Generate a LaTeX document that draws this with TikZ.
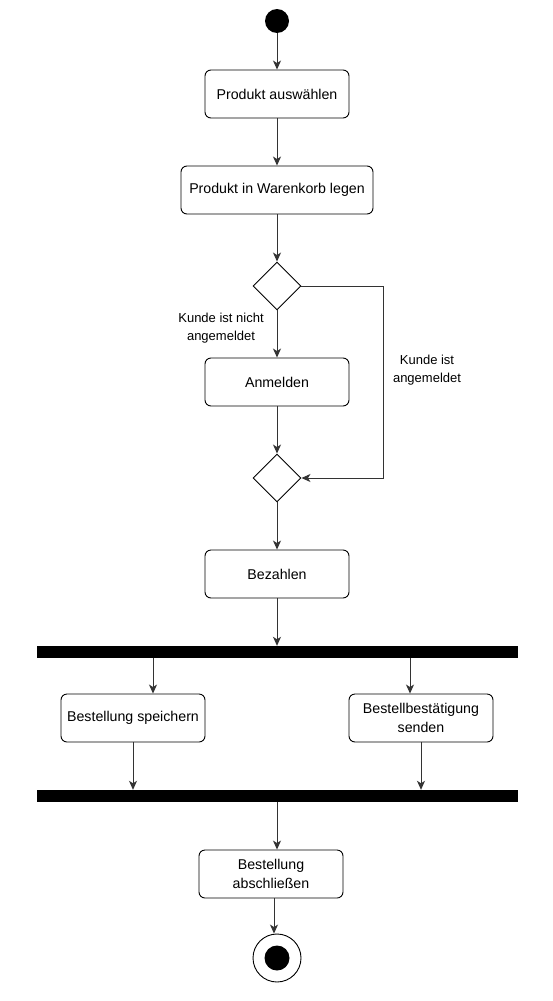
\documentclass[tikz,border=0pt]{standalone}
\usepackage{fontspec}
\setmainfont{Liberation Sans}
\usepackage{tikz}
\usetikzlibrary{arrows.meta,shapes.geometric}
\definecolor{ink}{HTML}{000000}
\definecolor{edge}{HTML}{333333}

\tikzset{
  action/.style={draw=ink, rounded corners=6pt, fill=white, minimum width=144pt, minimum height=48pt,
    align=center, font=\fontsize{14.2}{18.5}\selectfont, line width=0.9pt, inner sep=2pt},
  choice/.style={draw=ink, diamond, aspect=1, minimum width=48pt, minimum height=48pt, inner sep=0pt, line width=0.9pt},
  syncbar/.style={fill=ink, minimum width=481pt, minimum height=12pt, inner sep=0pt},
  flow/.style={draw=edge, line width=0.9pt, -{Stealth[length=9pt,width=8pt,inset=2.5pt]}},
  guard/.style={font=\fontsize{13}{18}\selectfont, align=center, text=ink}
}

\begin{document}
\begin{tikzpicture}[x=1pt,y=1pt]
\useasboundingbox (0,0) rectangle (553,-1001);

\node[circle, fill=ink, minimum size=24pt, inner sep=0pt] (start) at (277,-21) {};
\node[action] (select) at (277,-94) {Produkt auswählen};
\node[action, minimum width=192pt] (cart) at (277,-190) {Produkt in Warenkorb legen};
\node[choice] (check) at (277,-286) {};
\node[action] (login) at (277,-382) {Anmelden};
\node[choice] (merge) at (277,-478) {};
\node[action] (pay) at (277,-574) {Bezahlen};
\node[syncbar] (fork) at (277,-652) {};
\node[action] (store) at (133,-718) {Bestellung speichern};
\node[action] (confirm) at (421,-718) {Bestellbestätigung\\senden};
\node[syncbar] (join) at (277,-796) {};
\node[action] (finish) at (271,-874) {Bestellung\\abschließen};
\node[circle, draw=ink, line width=0.9pt, fill=white, minimum size=48pt, inner sep=0pt] (stop) at (277,-958) {};
\node[circle, fill=ink, minimum size=25pt, inner sep=0pt] at (stop) {};

\coordinate (bend1) at (383,-286);
\coordinate (bend2) at (383,-478);

\draw[flow] (start) -- (select);
\draw[flow] (select) -- (cart);
\draw[flow] (cart) -- (check);
\draw[flow] (check) -- (login);
\draw[flow] (login) -- (merge);
\draw[flow] (check.east) -- (bend1) -- (bend2) -- (merge.east);
\draw[flow] (merge) -- (pay);
\draw[flow] (pay) -- (fork);
\draw[flow] (fork.south -| 153,0) -- (store.north -| 153,0);
\draw[flow] (fork.south -| 410,0) -- (confirm.north -| 410,0);
\draw[flow] (store.south) -- (join.north -| store.south);
\draw[flow] (confirm.south) -- (join.north -| confirm.south);
\draw[flow] (join.south -| 277,0) -- (finish.north -| 277,0);
\draw[flow] (finish.south -| 274,0) -- (stop.north -| 274,0);

% guards
\node[guard] (notin) at (221,-328) {Kunde ist nicht\\angemeldet};
\node[guard] (isin) at (427,-370) {Kunde ist\\angemeldet};
\end{tikzpicture}
\end{document}
